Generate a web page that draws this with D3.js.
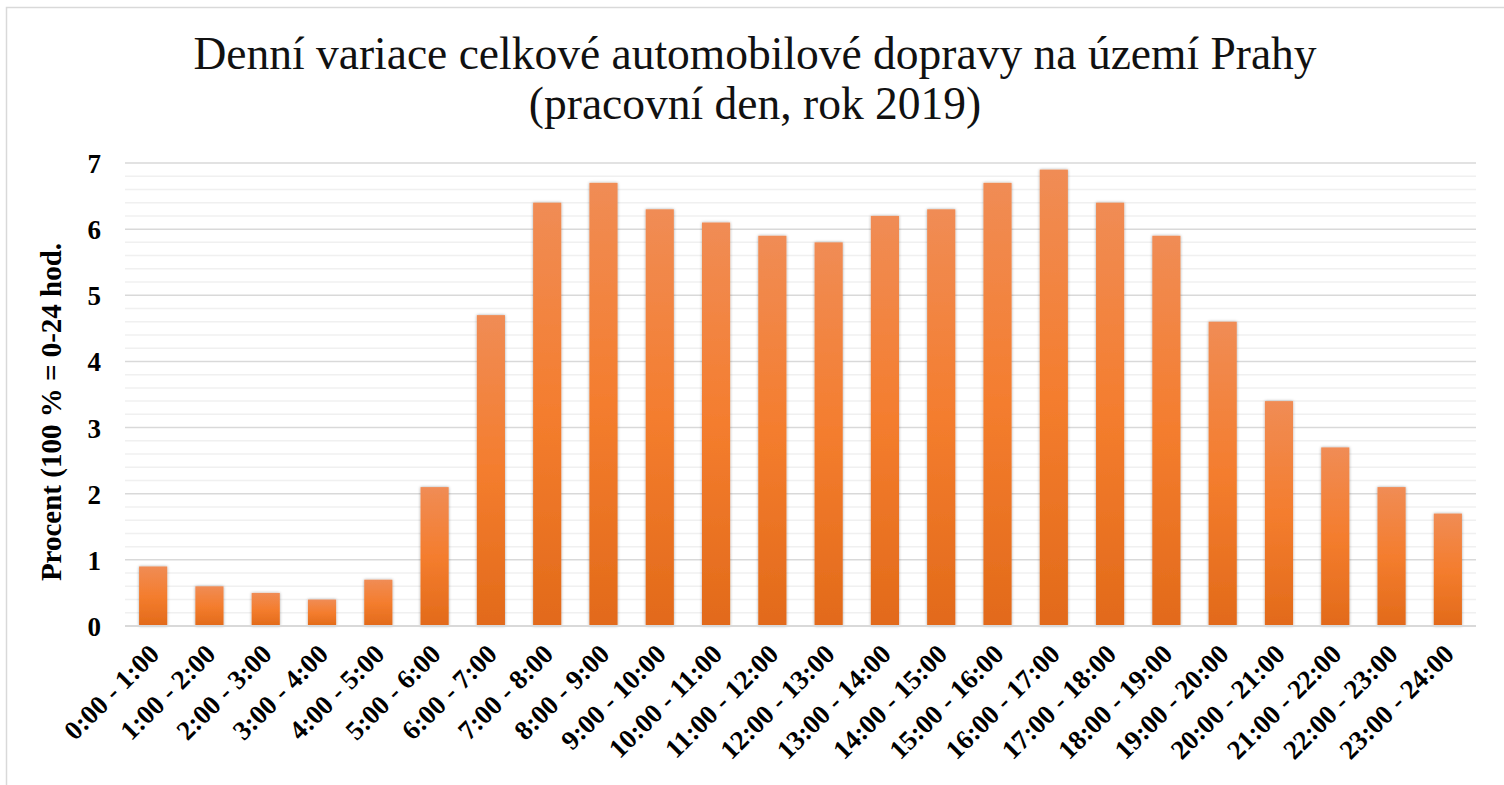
<!DOCTYPE html>
<html>
<head>
<meta charset="utf-8">
<script src="https://cdn.jsdelivr.net/npm/d3@7"></script>
<style>
  body { margin: 0; background: #fff; }
  svg { display: block; }
</style>
</head>
<body>
<svg id="chart" width="1504" height="785"></svg>
<script>
// hourly intervals and share of daily traffic (%)
let hours = ["0:00 - 1:00", "1:00 - 2:00", "2:00 - 3:00", "3:00 - 4:00", "4:00 - 5:00",
  "5:00 - 6:00", "6:00 - 7:00", "7:00 - 8:00", "8:00 - 9:00", "9:00 - 10:00",
  "10:00 - 11:00", "11:00 - 12:00", "12:00 - 13:00", "13:00 - 14:00", "14:00 - 15:00",
  "15:00 - 16:00", "16:00 - 17:00", "17:00 - 18:00", "18:00 - 19:00", "19:00 - 20:00",
  "20:00 - 21:00", "21:00 - 22:00", "22:00 - 23:00", "23:00 - 24:00"];
let shares = [0.9, 0.6, 0.5, 0.4, 0.7, 2.1, 4.7, 6.4, 6.7, 6.3, 6.1, 5.9,
  5.8, 6.2, 6.3, 6.7, 6.9, 6.4, 5.9, 4.6, 3.4, 2.7, 2.1, 1.7];
let yTicks = [0, 1, 2, 3, 4, 5, 6, 7];
let titleLines = ["Denní variace celkové automobilové dopravy na území Prahy", "(pracovní den, rok 2019)"];
let yTitle = "Procent (100 % = 0-24 hod.";

let margin = ({top: 163, right: 28, bottom: 159, left: 125});
let width = 1504, height = 785;
let serif = "'Liberation Serif', 'Times New Roman', serif";

let svg = d3.select("#chart");
let data = hours.map((h, i) => ({hour: h, value: shares[i]}));

// outer frame of the chart area (right and bottom run off the picture)
svg.append("rect")
  .attr("x", 6.5).attr("y", 7.5)
  .attr("width", 1520).attr("height", 800)
  .attr("fill", "none")
  .attr("stroke", "#d9d9d9")
  .attr("stroke-width", 1.5);

let defs = svg.append("defs");
let grad = defs.append("linearGradient")
  .attr("id", "barGrad")
  .attr("x1", 0).attr("y1", 0).attr("x2", 0).attr("y2", 1);
grad.append("stop").attr("offset", "0%").attr("stop-color", "#f08c55");
grad.append("stop").attr("offset", "50%").attr("stop-color", "#f47d2e");
grad.append("stop").attr("offset", "100%").attr("stop-color", "#e26a1a");

let shadow = defs.append("filter").attr("id", "shade")
  .attr("x", "-30%").attr("y", "-10%").attr("width", "160%").attr("height", "120%");
shadow.append("feDropShadow")
  .attr("dx", 0).attr("dy", 0)
  .attr("stdDeviation", 1.8)
  .attr("flood-color", "#000")
  .attr("flood-opacity", 0.35);

let x = d3.scaleBand()
  .domain(hours)
  .range([margin.left, width - margin.right])
  .paddingInner(0.5)
  .paddingOuter(0.25);

let y = d3.scaleLinear()
  .domain([0, 7])
  .range([height - margin.bottom, margin.top]);

// minor gridlines every 0.2
let minor = d3.range(0, 7.01, 0.2).filter(v => Math.abs(v - Math.round(v)) > 0.01);
svg.append("g")
  .selectAll("line")
  .data(minor)
  .join("line")
  .attr("x1", margin.left).attr("x2", width - margin.right)
  .attr("y1", d => y(d)).attr("y2", d => y(d))
  .attr("stroke", "#f0f0f0")
  .attr("stroke-width", 1.5);

// major gridlines
svg.append("g")
  .selectAll("line")
  .data(yTicks.slice(1))
  .join("line")
  .attr("x1", margin.left).attr("x2", width - margin.right)
  .attr("y1", d => y(d)).attr("y2", d => y(d))
  .attr("stroke", "#d9d9d9")
  .attr("stroke-width", 1.5);

// bars
svg.append("g")
  .selectAll("rect")
  .data(data)
  .join("rect")
  .attr("x", d => x(d.hour))
  .attr("y", d => y(d.value))
  .attr("width", x.bandwidth())
  .attr("height", d => y(0) - y(d.value))
  .attr("fill", "url(#barGrad)")
  .attr("filter", "url(#shade)");

// baseline
svg.append("line")
  .attr("x1", margin.left).attr("x2", width - margin.right)
  .attr("y1", y(0)).attr("y2", y(0))
  .attr("stroke", "#d9d9d9")
  .attr("stroke-width", 2);

// y axis labels
let yAxis = d3.axisLeft(y).tickValues(yTicks).tickFormat(d3.format("d")).tickSize(0).tickPadding(0);
svg.append("g")
  .attr("transform", "translate(101,0)")
  .call(yAxis)
  .call(g => g.select(".domain").remove())
  .selectAll("text")
  .attr("dy", "0.35em")
  .style("font-family", serif)
  .style("font-weight", "bold")
  .style("font-size", "27px")
  .style("fill", "#000");

// x axis labels rotated
let xAxis = d3.axisBottom(x).tickSize(0).tickPadding(0);
svg.append("g")
  .attr("transform", `translate(0,${y(0)})`)
  .call(xAxis)
  .call(g => g.select(".domain").remove())
  .selectAll("text")
  .attr("transform", "translate(1,23) rotate(-45)")
  .attr("text-anchor", "end")
  .attr("dy", "0.35em")
  .attr("y", 0)
  .style("font-family", serif)
  .style("font-weight", "bold")
  .style("font-size", "27px")
  .style("fill", "#000");

// axis title
svg.append("text")
  .attr("transform", "translate(61,412) rotate(-90)")
  .attr("text-anchor", "middle")
  .style("font-family", serif)
  .style("font-weight", "bold")
  .style("font-size", "29px")
  .text(yTitle);

// title
svg.append("g")
  .selectAll("text")
  .data(titleLines)
  .join("text")
  .attr("x", 755)
  .attr("y", (d, i) => 69 + i * 50)
  .attr("text-anchor", "middle")
  .style("font-family", serif)
  .style("font-size", "45.5px")
  .style("fill", "#111")
  .text(d => d);
</script>
</body>
</html>
